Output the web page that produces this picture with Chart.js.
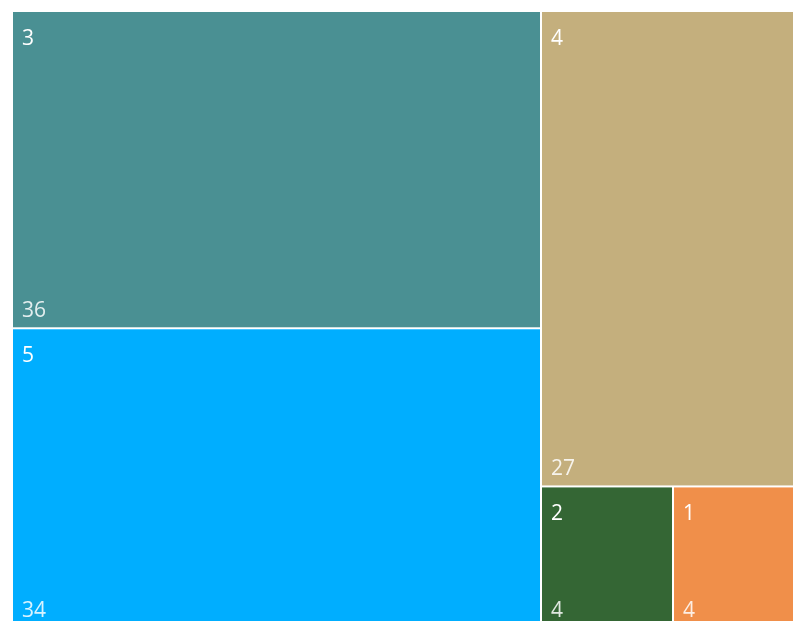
<!DOCTYPE html>
<html>
<head>
<meta charset="utf-8">
<script src="https://cdn.jsdelivr.net/npm/chart.js@4/dist/chart.umd.min.js"></script>
<style>
  html, body { margin: 0; padding: 0; background: #ffffff; overflow: hidden; }
  #wrap { position: absolute; left: 0; top: 0; width: 822px; height: 642px; }
</style>
</head>
<body>
<div id="wrap"><canvas id="c"></canvas></div>
<script>
// ---- data ----
const categories = ['3', '5', '4', '2', '1'];
const values = [36, 34, 27, 4, 4];
const colors = ['#4A9093', '#00AEFF', '#C4AF7D', '#346634', '#F08F4A'];

// squarified treemap layout in value space (rect of width w, height h)
function worst(row, side) {
  const s = row.reduce((a, b) => a + b.v, 0);
  const mx = Math.max(...row.map(r => r.v)), mn = Math.min(...row.map(r => r.v));
  return Math.max((side * side * mx) / (s * s), (s * s) / (side * side * mn));
}
function squarify(items, x, y, w, h, out) {
  items = items.slice();
  while (items.length) {
    const total = items.reduce((a, b) => a + b.v, 0);
    const scale = (w * h) / total;
    const side = Math.min(w, h);
    let row = [items[0]];
    let i = 1;
    while (i < items.length) {
      const cand = row.concat([items[i]]);
      const sc = cand.map(r => ({ v: r.v * scale }));
      const sr = row.map(r => ({ v: r.v * scale }));
      if (worst(sc, side) <= worst(sr, side)) { row = cand; i++; } else break;
    }
    const rowSum = row.reduce((a, b) => a + b.v, 0) * scale;
    if (w >= h) {
      const rw = rowSum / h; let yy = y;
      row.forEach(r => { const rh = (r.v * scale) / rw; out.push({ ...r, x0: x, y0: yy, x1: x + rw, y1: yy + rh }); yy += rh; });
      x += rw; w -= rw;
    } else {
      const rh = rowSum / w; let xx = x;
      row.forEach(r => { const rw = (r.v * scale) / rh; out.push({ ...r, x0: xx, y0: y, x1: xx + rw, y1: y + rh }); xx += rw; });
      y += rh; h -= rh;
    }
    items = items.slice(row.length);
  }
  return out;
}

const treemapPlugin = {
  id: 'treemap',
  afterDatasetsDraw(chart) {
    const { ctx, chartArea } = chart;
    const xs = chart.scales.x, ys = chart.scales.y;
    const ar = (chartArea.right - chartArea.left) / (chartArea.bottom - chartArea.top);
    const items = categories.map((c, i) => ({ name: c, v: values[i], color: colors[i] }))
      .sort((a, b) => b.v - a.v);
    const rects = squarify(items, 0, 0, ar, 1, []);
    ctx.save();
    rects.forEach(r => {
      const px0 = xs.getPixelForValue(r.x0 / ar), px1 = xs.getPixelForValue(r.x1 / ar);
      const py0 = ys.getPixelForValue(r.y0), py1 = ys.getPixelForValue(r.y1);
      const g = 1;
      const L = px0 + (r.x0 > 0 ? g : 0), T = py0 + (r.y0 > 0 ? g : 0);
      const R = px1 - (r.x1 < ar - 1e-9 ? g : 0), B = py1 - (r.y1 < 1 - 1e-9 ? g : 0);
      ctx.fillStyle = r.color;
      ctx.fillRect(L, T, R - L, B - T);
      ctx.fillStyle = '#ffffff';
      ctx.font = '21px "Open Sans", "Noto Sans", sans-serif';
      ctx.textBaseline = 'alphabetic';
      ctx.textAlign = 'left';
      ctx.fillText(r.name, L + 9, T + 33);
      ctx.fillStyle = 'rgba(255,255,255,0.85)';
      ctx.fillText(String(r.v), L + 9, B - 10);
    });
    ctx.restore();
  }
};

new Chart(document.getElementById('c'), {
  type: 'scatter',
  data: { datasets: [{ data: [], pointRadius: 0 }] },
  options: {
    responsive: true,
    maintainAspectRatio: false,
    animation: false,
    layout: { padding: { left: 13, top: 12, right: 17, bottom: 15 } },
    plugins: { legend: { display: false }, tooltip: { enabled: false } },
    scales: {
      x: { type: 'linear', min: 0, max: 1, display: false },
      y: { type: 'linear', min: 0, max: 1, reverse: true, display: false }
    }
  },
  plugins: [treemapPlugin]
});
</script>
</body>
</html>
